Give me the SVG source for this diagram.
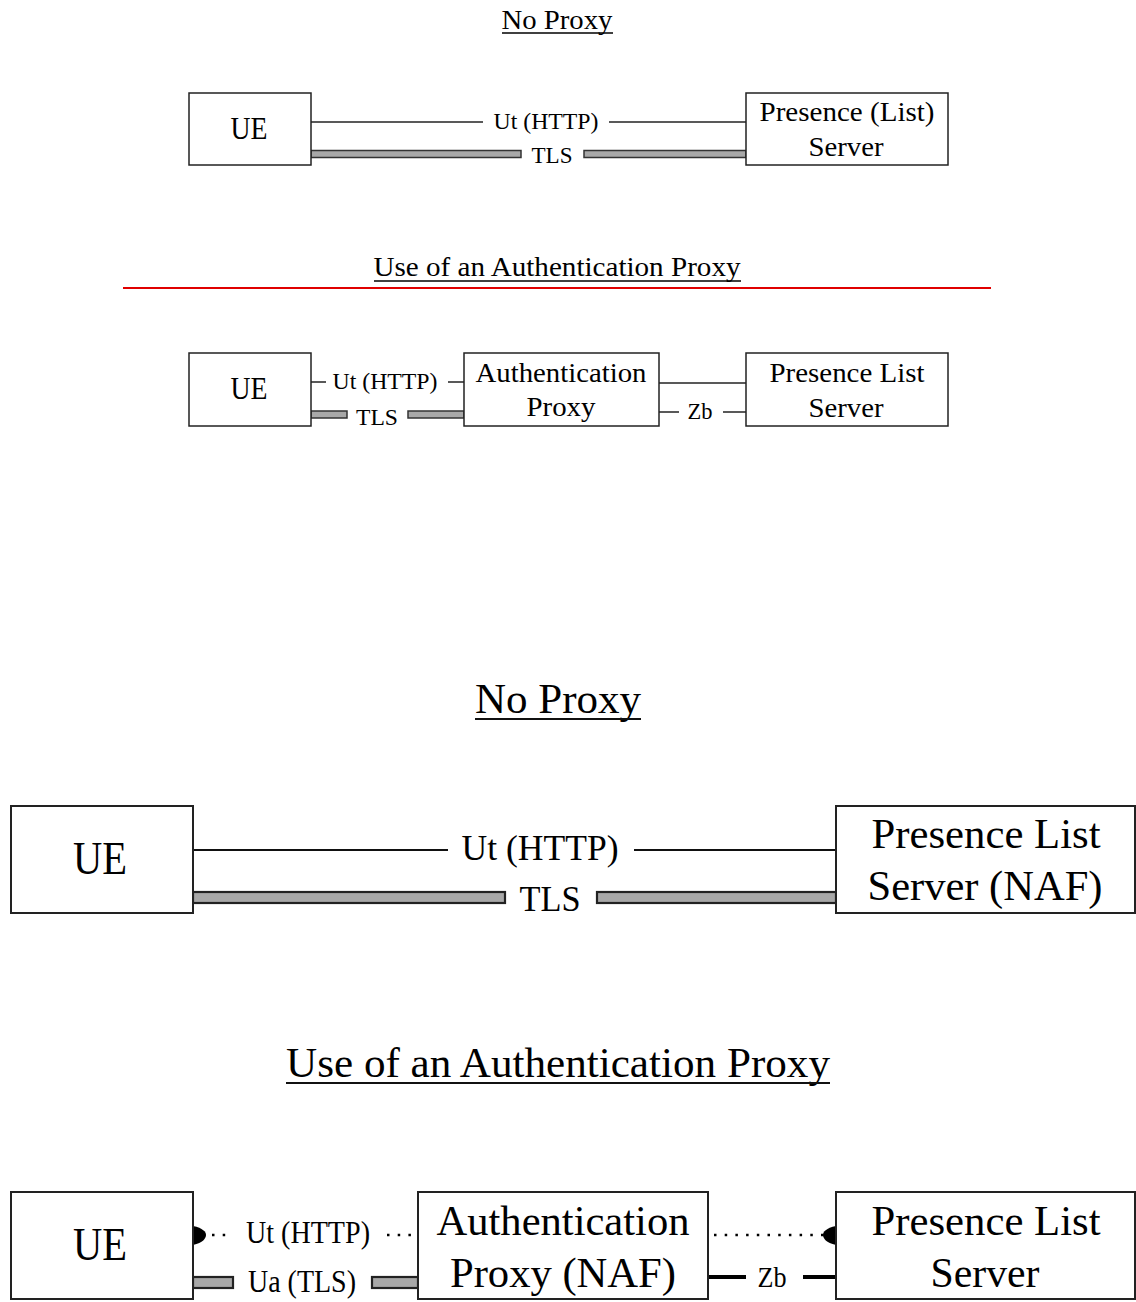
<svg xmlns="http://www.w3.org/2000/svg" width="1136" height="1302" viewBox="0 0 1136 1302">
<style>
text{font-family:"Liberation Serif","DejaVu Serif","Times New Roman",serif;fill:#000;text-anchor:middle}
.box{fill:#fff;stroke:#222;stroke-width:1.5}
.boxL{fill:#fff;stroke:#222;stroke-width:2}
.ln{stroke:#222;stroke-width:1.5;fill:none}
.lnL{stroke:#111;stroke-width:2;fill:none}
.band{fill:#a8a8a8;stroke:#333;stroke-width:1.5}
.bandL{fill:#a8a8a8;stroke:#222;stroke-width:2.2}
.dot{stroke:#000;stroke-width:2.5;stroke-dasharray:2.5 8.2;fill:none}
.thick{stroke:#000;stroke-width:4;fill:none}
.ul{stroke:#000;stroke-width:1.5}
</style>
<rect width="1136" height="1302" fill="#fff"/>

<!-- Section 1 -->
<g id="title1">
<text x="557" y="29" font-size="27" textLength="111" lengthAdjust="spacingAndGlyphs">No Proxy</text>
<line class="ul" x1="502" y1="33" x2="613" y2="33"/>
</g>
<g id="connectors1">
<line class="ln" x1="311" y1="122" x2="483" y2="122"/>
<line class="ln" x1="609" y1="122" x2="746" y2="122"/>
<rect class="band" x="311" y="150.5" width="210" height="7"/>
<rect class="band" x="584" y="150.5" width="162" height="7"/>
<text x="546" y="129" font-size="23" textLength="105" lengthAdjust="spacingAndGlyphs">Ut (HTTP)</text>
<text x="552" y="163" font-size="23" textLength="41" lengthAdjust="spacingAndGlyphs">TLS</text>
</g>
<g id="ue1">
<rect class="box" x="189" y="93" width="122" height="72"/>
<text x="249" y="139" font-size="31" textLength="37" lengthAdjust="spacingAndGlyphs">UE</text>
</g>
<g id="pls1">
<rect class="box" x="746" y="93" width="202" height="72"/>
<text x="847" y="121" font-size="28" textLength="175" lengthAdjust="spacingAndGlyphs">Presence (List)</text>
<text x="846" y="156" font-size="28" textLength="75" lengthAdjust="spacingAndGlyphs">Server</text>
</g>

<!-- Section 2 -->
<g id="title2">
<text x="557" y="276" font-size="27" textLength="367" lengthAdjust="spacingAndGlyphs">Use of an Authentication Proxy</text>
<line class="ul" x1="374" y1="281" x2="741" y2="281"/>
<line x1="123" y1="288" x2="991" y2="288" stroke="#e00000" stroke-width="2"/>
</g>
<g id="connectors2">
<line class="ln" x1="311" y1="382" x2="326" y2="382"/>
<line class="ln" x1="448" y1="382" x2="464" y2="382"/>
<text x="385" y="389" font-size="23" textLength="105" lengthAdjust="spacingAndGlyphs">Ut (HTTP)</text>
<rect class="band" x="311" y="411" width="36" height="7"/>
<rect class="band" x="408" y="411" width="56" height="7"/>
<text x="377" y="425" font-size="23" textLength="42" lengthAdjust="spacingAndGlyphs">TLS</text>
<line class="ln" x1="659" y1="383" x2="746" y2="383"/>
<line class="ln" x1="659" y1="412" x2="679" y2="412"/>
<line class="ln" x1="723" y1="412" x2="746" y2="412"/>
<text x="700" y="419" font-size="23" textLength="25" lengthAdjust="spacingAndGlyphs">Zb</text>
</g>
<g id="ue2">
<rect class="box" x="189" y="353" width="122" height="73"/>
<text x="249" y="399" font-size="31" textLength="37" lengthAdjust="spacingAndGlyphs">UE</text>
</g>
<g id="ap2">
<rect class="box" x="464" y="353" width="195" height="73"/>
<text x="561" y="382" font-size="28" textLength="171" lengthAdjust="spacingAndGlyphs">Authentication</text>
<text x="561" y="416" font-size="28" textLength="69" lengthAdjust="spacingAndGlyphs">Proxy</text>
</g>
<g id="pls2">
<rect class="box" x="746" y="353" width="202" height="73"/>
<text x="847" y="382" font-size="28" textLength="155" lengthAdjust="spacingAndGlyphs">Presence List</text>
<text x="846" y="417" font-size="28" textLength="75" lengthAdjust="spacingAndGlyphs">Server</text>
</g>

<!-- Section 3 -->
<g id="title3">
<text x="558" y="713" font-size="43" textLength="166" lengthAdjust="spacingAndGlyphs">No Proxy</text>
<line class="lnL" x1="475" y1="719" x2="641" y2="719"/>
</g>
<g id="connectors3">
<line class="lnL" x1="193" y1="850" x2="448" y2="850"/>
<line class="lnL" x1="634" y1="850" x2="836" y2="850"/>
<text x="540" y="860" font-size="35" textLength="157" lengthAdjust="spacingAndGlyphs">Ut (HTTP)</text>
<rect class="bandL" x="193" y="892" width="312" height="11"/>
<rect class="bandL" x="597" y="892" width="239" height="11"/>
<text x="550" y="911" font-size="35" textLength="61" lengthAdjust="spacingAndGlyphs">TLS</text>
</g>
<g id="ue3">
<rect class="boxL" x="11" y="806" width="182" height="107"/>
<text x="100" y="874" font-size="46" textLength="54" lengthAdjust="spacingAndGlyphs">UE</text>
</g>
<g id="pls3">
<rect class="boxL" x="836" y="806" width="299" height="107"/>
<text x="986" y="848" font-size="42" textLength="229" lengthAdjust="spacingAndGlyphs">Presence List</text>
<text x="985" y="900" font-size="42" textLength="235" lengthAdjust="spacingAndGlyphs">Server (NAF)</text>
</g>

<!-- Section 4 -->
<g id="title4">
<text x="558" y="1077" font-size="43" textLength="544" lengthAdjust="spacingAndGlyphs">Use of an Authentication Proxy</text>
<line class="lnL" x1="286" y1="1083" x2="830" y2="1083"/>
</g>
<g id="connectors4">
<path d="M193,1226 C203,1228 206,1232 206,1235 C206,1238 203,1243 193,1245 Z" fill="#000"/>
<line class="dot" x1="212" y1="1235" x2="232" y2="1235"/>
<text x="308" y="1243" font-size="31" textLength="124" lengthAdjust="spacingAndGlyphs">Ut (HTTP)</text>
<line class="dot" x1="387" y1="1235" x2="418" y2="1235"/>
<rect class="bandL" x="193" y="1277" width="40" height="11"/>
<rect class="bandL" x="372" y="1277" width="46" height="11"/>
<text x="302" y="1292" font-size="31" textLength="108" lengthAdjust="spacingAndGlyphs">Ua (TLS)</text>
<line class="dot" x1="714" y1="1235" x2="826" y2="1235"/>
<path d="M836,1226 C826,1228 823,1232 823,1235 C823,1238 826,1243 836,1245 Z" fill="#000"/>
<line class="thick" x1="708" y1="1277" x2="746" y2="1277"/>
<line class="thick" x1="803" y1="1277" x2="836" y2="1277"/>
<text x="772" y="1287" font-size="29" textLength="29" lengthAdjust="spacingAndGlyphs">Zb</text>
</g>
<g id="ue4">
<rect class="boxL" x="11" y="1192" width="182" height="107"/>
<text x="100" y="1260" font-size="46" textLength="54" lengthAdjust="spacingAndGlyphs">UE</text>
</g>
<g id="ap4">
<rect class="boxL" x="418" y="1192" width="290" height="107"/>
<text x="563" y="1235" font-size="42" textLength="253" lengthAdjust="spacingAndGlyphs">Authentication</text>
<text x="563" y="1287" font-size="42" textLength="226" lengthAdjust="spacingAndGlyphs">Proxy (NAF)</text>
</g>
<g id="pls4">
<rect class="boxL" x="836" y="1192" width="299" height="107"/>
<text x="986" y="1235" font-size="42" textLength="229" lengthAdjust="spacingAndGlyphs">Presence List</text>
<text x="985" y="1287" font-size="42" textLength="109" lengthAdjust="spacingAndGlyphs">Server</text>
</g>
</svg>
